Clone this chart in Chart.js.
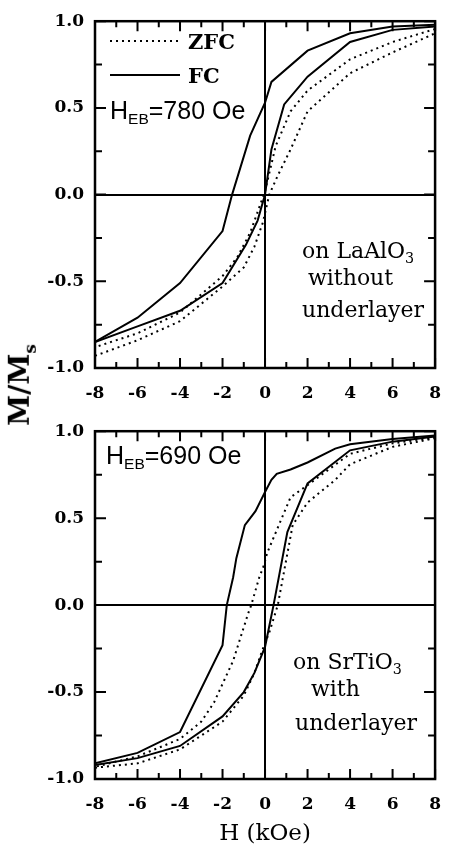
<!DOCTYPE html>
<html>
<head>
<meta charset="utf-8">
<script src="https://cdn.jsdelivr.net/npm/chart.js@4"></script>
<style>
  body { margin: 0; background: #fff; }
  #wrap { position: relative; width: 456px; height: 848px; overflow: hidden; }
  canvas { position: absolute; left: 0; }
  .lbl { position: absolute; color: #000; white-space: nowrap; line-height: 1; }
  .serif { font-family: "DejaVu Serif", serif; }
  .sans { font-family: "Liberation Sans", Arial, sans-serif; }
  .heb { font-size: 25px; }
  .heb sub { font-size: 0.62em; vertical-align: -0.3em; }
  .sub3 sub { font-size: 0.65em; vertical-align: -0.35em; }
  .leg { font-weight: bold; font-size: 21px; }
  .note { font-size: 22px; }
</style>
</head>
<body>
<div id="wrap">
  <canvas id="topChart" width="456" height="410" style="top:0"></canvas>
  <canvas id="botChart" width="456" height="438" style="top:410px"></canvas>

  <!-- legend (top panel) -->
  <svg style="position:absolute;left:110px;top:36px" width="72" height="44">
    <line x1="0" y1="5" x2="70" y2="5" stroke="#000" stroke-width="2" stroke-dasharray="2 4"></line>
    <line x1="0" y1="39" x2="70" y2="39" stroke="#000" stroke-width="2"></line>
  </svg>
  <div class="lbl serif leg" style="left:188px;top:31px">ZFC</div>
  <div class="lbl serif leg" style="left:188px;top:65px">FC</div>

  <div class="lbl sans heb" style="left:110px;top:98px">H<sub>EB</sub>=780 Oe</div>
  <div class="lbl serif note sub3" style="left:302px;top:240px">on LaAlO<sub>3</sub></div>
  <div class="lbl serif note" style="left:308px;top:267px">without</div>
  <div class="lbl serif note" style="left:302px;top:299px">underlayer</div>

  <div class="lbl sans heb" style="left:106px;top:443px">H<sub>EB</sub>=690 Oe</div>
  <div class="lbl serif note sub3" style="left:293px;top:651px">on SrTiO<sub>3</sub></div>
  <div class="lbl serif note" style="left:311px;top:678px">with</div>
  <div class="lbl serif note" style="left:295px;top:712px">underlayer</div>

  <div class="lbl serif" style="left:22px;top:385px;font-size:28px;font-weight:bold;transform:translate(-50%,-50%) rotate(-90deg)">M/M<sub style="font-size:0.6em">s</sub></div>
</div>

<script>
// top panel: on LaAlO3, without underlayer
const topFcDownH = [8, 6, 4, 2, 0.3, 0, -0.7, -1.55, -2, -4, -6, -8];
const topFcDownM = [0.98, 0.97, 0.93, 0.83, 0.65, 0.53, 0.34, 0.0, -0.21, -0.51, -0.71, -0.85];
const topFcUpH = [-8, -6, -4, -2, -0.9, -0.35, 0, 0.3, 0.9, 2, 4, 6, 8];
const topFcUpM = [-0.85, -0.76, -0.67, -0.51, -0.29, -0.15, 0.0, 0.26, 0.52, 0.68, 0.88, 0.95, 0.97];
const topZfcDownH = [8, 6, 4, 2, 1.2, 0.5, 0, -0.7, -1.3, -2, -4, -6, -8];
const topZfcDownM = [0.955, 0.88, 0.78, 0.6, 0.48, 0.28, 0.02, -0.22, -0.36, -0.47, -0.68, -0.8, -0.88];
const topZfcUpH = [-8, -6, -4, -2, -1, -0.5, -0.1, 0.2, 0.6, 1.2, 2, 4, 6, 8];
const topZfcUpM = [-0.93, -0.84, -0.73, -0.53, -0.42, -0.3, -0.16, 0.0, 0.11, 0.26, 0.48, 0.7, 0.82, 0.93];

// bottom panel: on SrTiO3, with underlayer
const botFcDownH = [8, 6, 4, 3.3, 2, 1.2, 0.55, 0.3, 0, -0.45, -0.95, -1.35, -1.5, -1.8, -2, -4, -6, -8];
const botFcDownM = [0.975, 0.955, 0.925, 0.9, 0.82, 0.78, 0.755, 0.72, 0.65, 0.54, 0.46, 0.27, 0.16, 0.0, -0.23, -0.73, -0.85, -0.91];
const botFcUpH = [-8, -6, -4, -2, -1, -0.5, 0, 0.2, 0.4, 1.05, 2, 4, 6, 8];
const botFcUpM = [-0.92, -0.88, -0.81, -0.64, -0.5, -0.39, -0.24, -0.12, 0.0, 0.42, 0.7, 0.89, 0.94, 0.97];
const botZfcDownH = [8, 6, 4, 2, 1.2, 0.1, -0.05, -0.27, -0.65, -0.8, -1.5, -2.4, -3, -4, -6, -8];
const botZfcDownM = [0.965, 0.93, 0.87, 0.69, 0.62, 0.3, 0.23, 0.16, 0.0, -0.05, -0.32, -0.56, -0.67, -0.77, -0.87, -0.93];
const botZfcUpH = [-8, -6, -4, -2, -1, -0.5, -0.13, 0.22, 0.6, 1.3, 2, 3.3, 4, 6, 8];
const botZfcUpM = [-0.935, -0.91, -0.83, -0.67, -0.52, -0.39, -0.26, -0.15, 0.0, 0.46, 0.59, 0.72, 0.81, 0.91, 0.96];

const xTickLabels = ['-8', '-6', '-4', '-2', '0', '2', '4', '6', '8'];
const yTickLabels = ['-1.0', '-0.5', '0.0', '0.5', '1.0'];

const tickFont = { family: 'DejaVu Serif', size: 17, weight: 'bold' };

// box frame + inward ticks on all four sides
const framePlugin = {
  id: 'frame',
  afterDatasetsDraw(chart) {
    const { ctx, chartArea: a, scales: { x, y } } = chart;
    ctx.save();
    ctx.strokeStyle = '#000';
    ctx.lineWidth = 2;
    ctx.beginPath();
    x.ticks.forEach(t => {
      const px = x.getPixelForValue(t.value);
      const len = t.value % 2 === 0 ? 10 : 6;
      ctx.moveTo(px, a.bottom); ctx.lineTo(px, a.bottom - len);
      ctx.moveTo(px, a.top); ctx.lineTo(px, a.top + len);
    });
    y.ticks.forEach(t => {
      const py = y.getPixelForValue(t.value);
      const major = Math.abs(t.value * 2 - Math.round(t.value * 2)) < 1e-6;
      const len = major ? 11 : 7;
      ctx.moveTo(a.left, py); ctx.lineTo(a.left + len, py);
      ctx.moveTo(a.right, py); ctx.lineTo(a.right - len, py);
    });
    ctx.stroke();
    ctx.lineWidth = 2.5;
    ctx.strokeRect(a.left, a.top, a.right - a.left, a.bottom - a.top);
    ctx.restore();
  }
};

const zeroLine = c => (c.tick && c.tick.value === 0 ? '#000' : 'rgba(0,0,0,0)');

function makePanel(id, series, padTop, xHeight, withTitle) {
  return new Chart(document.getElementById(id), {
    type: 'line',
    data: {
      datasets: series.map(s => ({
        label: s.label,
        data: s.h.map((h, i) => ({ x: h, y: s.m[i] })),
        borderColor: '#000',
        borderWidth: 2,
        borderDash: s.dotted ? [2, 4] : [],
        pointRadius: 0,
        fill: false,
        tension: 0
      }))
    },
    options: {
      responsive: false,
      animation: false,
      layout: { padding: { top: padTop, right: 3, left: 0, bottom: 0 } },
      plugins: { legend: { display: false }, tooltip: { enabled: false } },
      scales: {
        x: {
          type: 'linear', min: -8, max: 8,
          ticks: {
            stepSize: 1, autoSkip: false, maxRotation: 0, padding: 15, color: '#000', font: tickFont,
            callback: v => (v % 2 === 0 ? xTickLabels[(v + 8) / 2] : '')
          },
          grid: { drawTicks: false, color: zeroLine, lineWidth: 2 },
          border: { display: false },
          title: {
            display: withTitle, text: 'H (kOe)', color: '#000',
            font: { family: 'DejaVu Serif', size: 23 }, padding: 0
          },
          afterFit: s => { s.height = xHeight; }
        },
        y: {
          min: -1, max: 1,
          ticks: {
            stepSize: 0.25, autoSkip: false, padding: 11, color: '#000', font: tickFont,
            callback: v => {
              const k = Math.round(v * 2);
              return Math.abs(v * 2 - k) < 1e-6 ? yTickLabels[k + 2] : '';
            }
          },
          grid: { drawTicks: false, color: zeroLine, lineWidth: 2 },
          border: { display: false },
          afterFit: s => { s.width = 95; }
        }
      }
    },
    plugins: [framePlugin]
  });
}

makePanel('topChart', [
  { label: 'ZFC', h: topZfcDownH, m: topZfcDownM, dotted: true },
  { label: 'ZFC', h: topZfcUpH, m: topZfcUpM, dotted: true },
  { label: 'FC', h: topFcDownH, m: topFcDownM },
  { label: 'FC', h: topFcUpH, m: topFcUpM }
], 12, 42, false);

makePanel('botChart', [
  { label: 'ZFC', h: botZfcDownH, m: botZfcDownM, dotted: true },
  { label: 'ZFC', h: botZfcUpH, m: botZfcUpM, dotted: true },
  { label: 'FC', h: botFcDownH, m: botFcDownM },
  { label: 'FC', h: botFcUpH, m: botFcUpM }
], 14, 69, true);
</script>
</body>
</html>
